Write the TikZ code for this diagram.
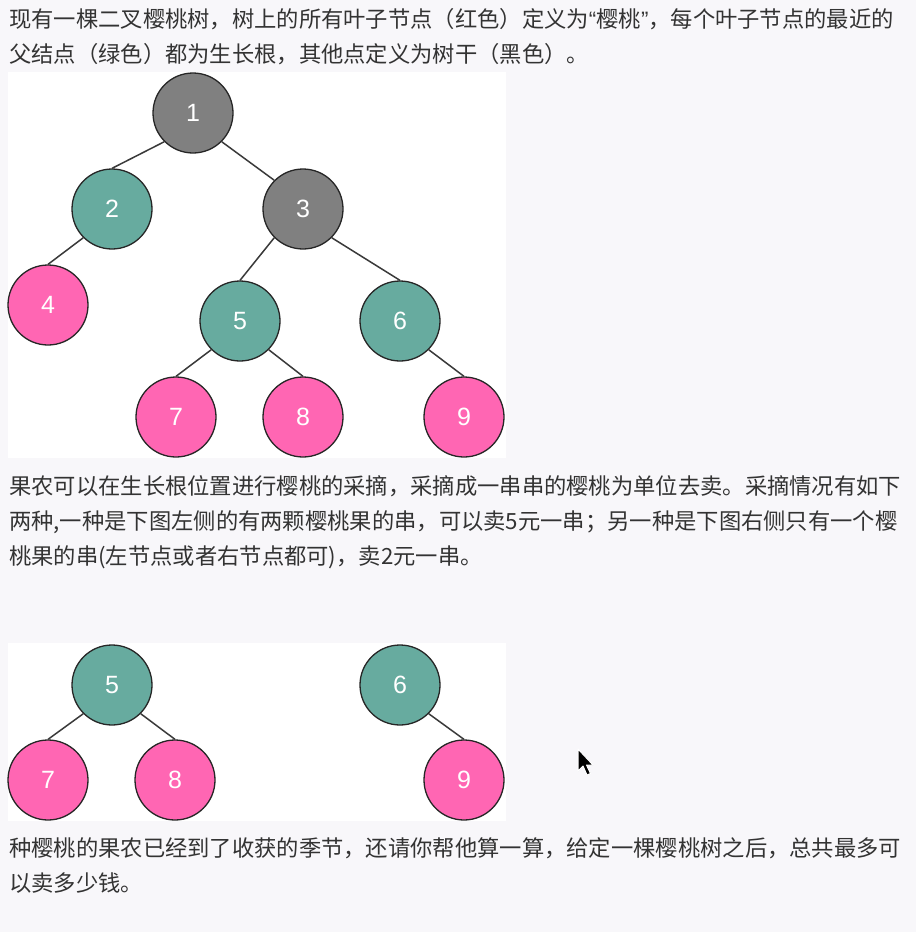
\documentclass[tikz,border=0pt]{standalone}
\usepackage{fontspec}
\newfontfamily\cjk{Noto Sans CJK SC}
\newfontfamily\numf{Liberation Sans}
\definecolor{bgc}{HTML}{F8F7FA}
\definecolor{txtc}{HTML}{333333}
\definecolor{grayn}{HTML}{808080}
\definecolor{tealn}{HTML}{67AB9F}
\definecolor{pinkn}{HTML}{FF66B3}
\definecolor{edgec}{HTML}{3A3A3A}
\tikzset{
  txtline/.style={anchor=base west, inner sep=0pt, text=txtc, font=\cjk\fontsize{22.3}{26}\selectfont},
  tnode/.style={circle, minimum size=80pt, inner sep=0pt, draw=black!85, line width=1.3pt, text=white, font=\numf\fontsize{25}{28}\selectfont},
  trunk/.style={tnode, fill=grayn},
  root/.style={tnode, fill=tealn},
  cherry/.style={tnode, fill=pinkn},
  edge/.style={draw=edgec, line width=1.5pt},
  panel/.style={fill=white, draw=none}
}
\begin{document}
\begin{tikzpicture}[x=1pt,y=-1pt]
\fill[bgc] (0,0) rectangle (916,932);
\useasboundingbox (0,0) rectangle (916,932);
% text
\node[txtline] (t1) at (9,27.5) {现有一棵二叉樱桃树，树上的所有叶子节点（红色）定义为{\numf“}樱桃{\numf”}，每个叶子节点的最近的};
\node[txtline] (t2) at (9,62.5) {父结点（绿色）都为生长根，其他点定义为树干（黑色）。};
\node[txtline] (t3) at (9,494.5) {果农可以在生长根位置进行樱桃的采摘，采摘成一串串的樱桃为单位去卖。采摘情况有如下};
\node[txtline] (t4) at (9,529.5) {两种,一种是下图左侧的有两颗樱桃果的串，可以卖5元一串；另一种是下图右侧只有一个樱};
\node[txtline] (t5) at (9,564.5) {桃果的串(左节点或者右节点都可)，卖2元一串。};
\node[txtline] (t6) at (9,856.5) {种樱桃的果农已经到了收获的季节，还请你帮他算一算，给定一棵樱桃树之后，总共最多可};
\node[txtline] (t7) at (9,891.5) {以卖多少钱。};
% panels
\fill[panel] (8,72) rectangle (506,458);
\fill[panel] (8,643) rectangle (506,821);
% tree 1 edges (drawn first, under nodes)
\node[trunk] (n1) at (193,113) {1};
\node[root] (n2) at (112,209) {2};
\node[trunk] (n3) at (303,209) {3};
\node[cherry] (n4) at (48,305) {4};
\node[root] (n5) at (240,321) {5};
\node[root] (n6) at (400,321) {6};
\node[cherry] (n7) at (176,417) {7};
\node[cherry] (n8) at (303,417) {8};
\node[cherry] (n9) at (464,417) {9};
\draw[edge] (n1.225) -- (n2.north);
\draw[edge] (n1.315) -- (n3.135);
\draw[edge] (n2.225) -- (n4.north);
\draw[edge] (n3.225) -- (n5.north);
\draw[edge] (n3.315) -- (n6.north);
\draw[edge] (n5.225) -- (n7.north);
\draw[edge] (n5.315) -- (n8.north);
\draw[edge] (n6.315) -- (n9.north);
% tree 2
\node[root] (m5) at (112,685) {5};
\node[cherry] (m7) at (48,780) {7};
\node[cherry] (m8) at (175,780) {8};
\node[root] (m6) at (400,685) {6};
\node[cherry] (m9) at (464,780) {9};
\draw[edge] (m5.225) -- (m7.north);
\draw[edge] (m5.315) -- (m8.north);
\draw[edge] (m6.315) -- (m9.north);
% cursor
\filldraw[fill=black, draw=white, line width=1pt, line join=round]
  (578,749) -- (578,771) -- (583,766) -- (587,775) -- (590.5,773.5) -- (586.5,765) -- (593,765) -- cycle;
\end{tikzpicture}
\end{document}
